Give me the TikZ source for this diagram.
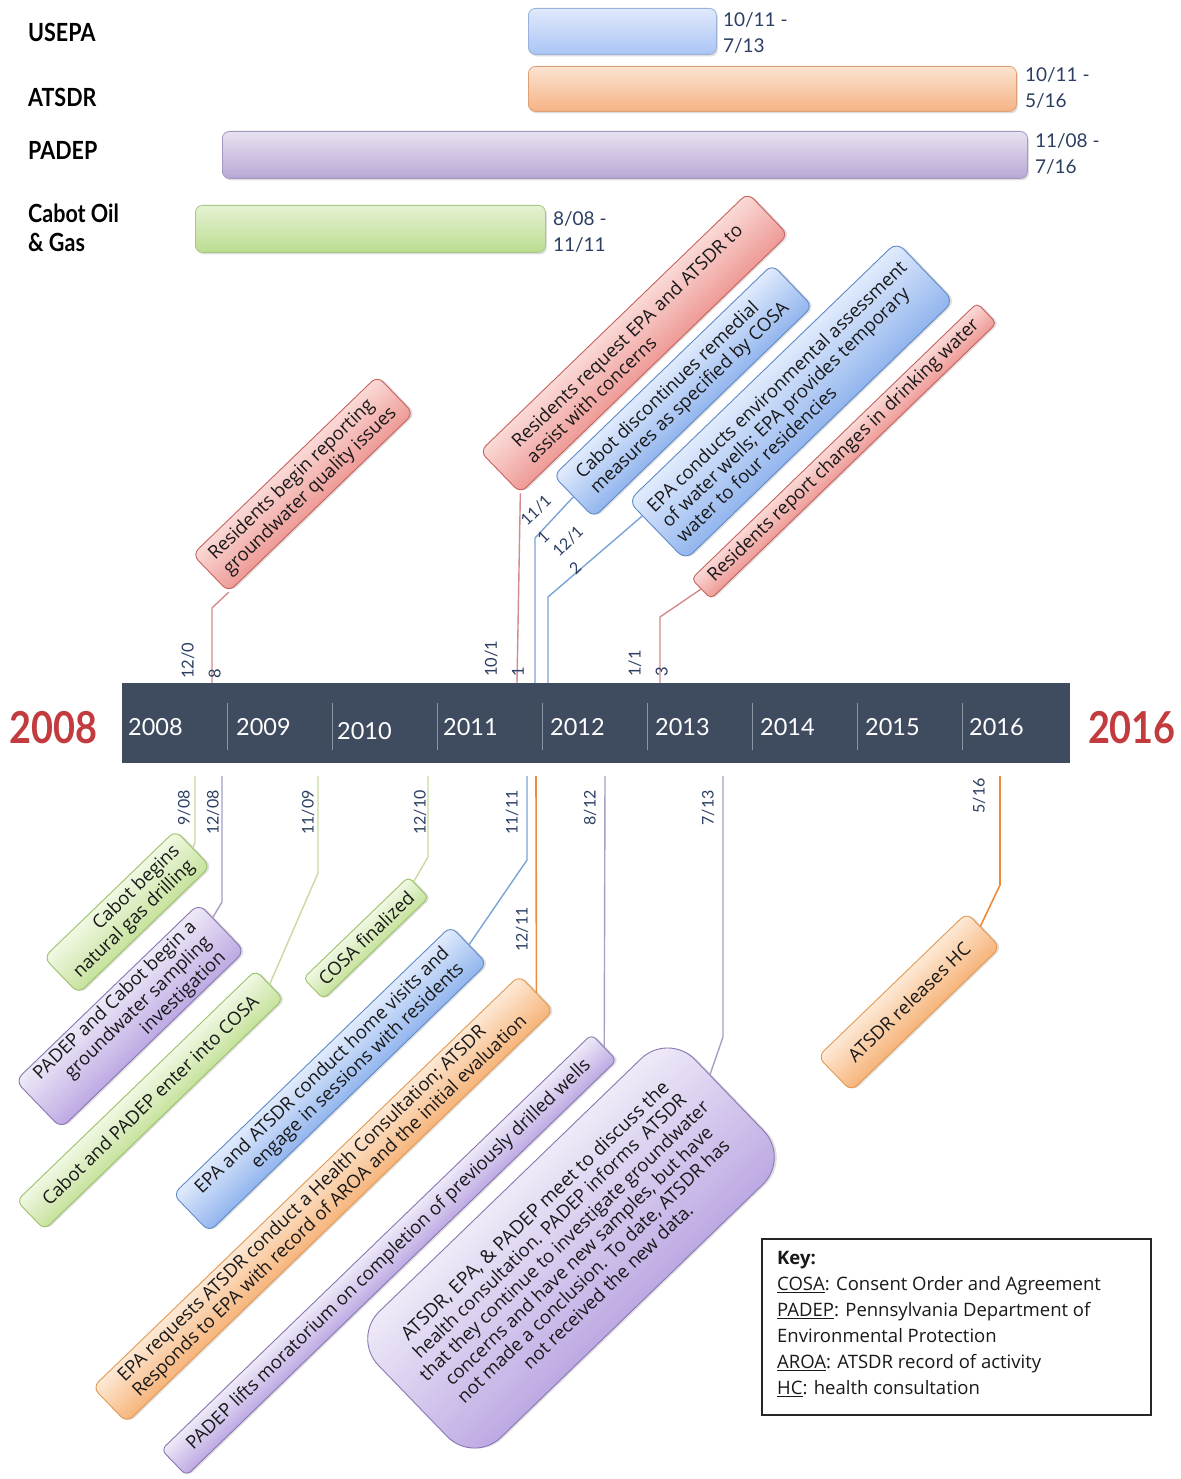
\documentclass[tikz,border=0pt]{standalone}
\usepackage{fontspec}
\setmainfont{Open Sans}
\newfontfamily\latofont{Lato}
\newfontfamily\latocond[FakeStretch=0.86]{Lato}
\usetikzlibrary{calc,shadows}

\definecolor{rTop}{HTML}{FADAD7}\definecolor{rBot}{HTML}{EE9A96}\definecolor{rDraw}{HTML}{C8625E}
\definecolor{bTop}{HTML}{E1EBFC}\definecolor{bBot}{HTML}{92B5EE}\definecolor{bDraw}{HTML}{5F8AC8}
\definecolor{gTop}{HTML}{F1F8E4}\definecolor{gBot}{HTML}{C6E29C}\definecolor{gDraw}{HTML}{9BC267}
\definecolor{pTop}{HTML}{EFEAF8}\definecolor{pBot}{HTML}{BDA9E3}\definecolor{pDraw}{HTML}{8A76B3}
\definecolor{oTop}{HTML}{FDE9D6}\definecolor{oBot}{HTML}{F6B47A}\definecolor{oDraw}{HTML}{E3994F}
\definecolor{lnRed}{HTML}{D48B8C}\definecolor{lnBlue}{HTML}{7AA4D6}\definecolor{lnGreen}{HTML}{C7DBA0}
\definecolor{lnPurple}{HTML}{A69FC6}\definecolor{lnOrange}{HTML}{EE8A3A}
\definecolor{datecol}{HTML}{2C3F63}\definecolor{bandcol}{HTML}{3F4B5F}\definecolor{sepcol}{HTML}{8C95A3}
\definecolor{bigred}{HTML}{C23B3E}
\definecolor{ubT}{HTML}{E0E9FB}\definecolor{ubB}{HTML}{AAC5F5}
\definecolor{uoT}{HTML}{FBE4D2}\definecolor{uoB}{HTML}{F6B284}
\definecolor{upT}{HTML}{E7E1F0}\definecolor{upB}{HTML}{B9A7D5}
\definecolor{ugT}{HTML}{E5F2D2}\definecolor{ugB}{HTML}{BBDD91}

\tikzset{
  boxtxt/.style={inner sep=0pt, text=black!90, font=\fontsize{18.5}{21}\selectfont},
  shd/.style={drop shadow={shadow xshift=1.5pt, shadow yshift=-2pt, opacity=0.25, fill=black!50}},
  lnR/.style={draw=lnRed, line width=1.4pt},
  lnB/.style={draw=lnBlue, line width=1.4pt},
  lnG/.style={draw=lnGreen, line width=1.4pt},
  lnP/.style={draw=lnPurple, line width=1.4pt},
  lnO/.style={draw=lnOrange, line width=1.6pt},
  datelab/.style={text=datecol, inner sep=0pt, font=\latofont\fontsize{16}{19}\selectfont},
  toplab/.style={text=datecol, inner sep=0pt, align=left, font=\latofont\fontsize{16.5}{27}\selectfont},
  slantlab/.style={text=datecol, inner sep=0pt, align=left, rotate=44, font=\latofont\fontsize{16}{24}\selectfont},
  barlab/.style={text=datecol, inner sep=0pt, align=left, anchor=west, font=\latofont\fontsize{19}{26}\selectfont},
  org/.style={inner sep=0pt, anchor=west, align=left, font=\latocond\bfseries\fontsize{25}{29}\selectfont},
  bar/.style={rounded corners=7pt, line width=0.8pt, minimum height=46, inner sep=0pt, anchor=north west, shd},
  yr/.style={text=white, inner sep=0pt, anchor=west, font=\latofont\fontsize{23.5}{26}\selectfont},
  bigyr/.style={text=bigred, inner sep=0pt, font=\latocond\bfseries\fontsize{44}{48}\selectfont},
  sepline/.style={draw=sepcol, line width=0.8pt},
  keytxt/.style={inner sep=0pt, align=left, text=black!90, font=\fontsize{18.5}{26}\selectfont}
}

% #1 name, #2 centre, #3 length, #4 thickness, #5 colour prefix, #6 alignment, #7 corner radius, #8 text
\newcommand{\evbox}[8]{%
  \begin{scope}[transform canvas={shift={#2},rotate=44}]
    \node[draw=#5Draw, line width=0.9pt, top color=#5Top, bottom color=#5Bot,
          rounded corners=#7pt, minimum width=#3, minimum height=#4, inner sep=0pt, shd] at (0,0) {};
  \end{scope}
  \node[boxtxt, rotate=44, minimum width=#3, minimum height=#4, align=#6] (#1) at #2 {#8};
}

\begin{document}
\begin{tikzpicture}[x=1pt,y=-1pt]
\useasboundingbox (0,0) rectangle (1180,1479);
\fill[white] (0,0) rectangle (1180,1479);

% ---------- organisations and bars ----------
\node[org] (nUSEPA) at (28,32) {USEPA};
\node[org] (nATSDR) at (28,97) {ATSDR};
\node[org] (nPADEP) at (28,150) {PADEP};
\node[org] (nCabot) at (28,228) {Cabot Oil\\\& Gas};

\node[bar, top color=ubT, bottom color=ubB, draw=ubB!85!black!70!ubB, minimum width=188] (busepa) at (528,8) {};
\node[bar, top color=uoT, bottom color=uoB, draw=uoB!90!black, minimum width=488, minimum height=45] (batsdr) at (528,66) {};
\node[bar, top color=upT, bottom color=upB, draw=upB!90!black, minimum width=805, minimum height=47] (bpadep) at (222,131) {};
\node[bar, top color=ugT, bottom color=ugB, draw=ugB!90!black, minimum width=350, minimum height=47] (bcabot) at (195,205) {};

\node[barlab] (lusepa) at ($(busepa.east)+(6,2)$) {10/11 -\\7/13};
\node[barlab] (latsdr) at ($(batsdr.east)+(8,-1)$) {10/11 -\\5/16};
\node[barlab] (lpadep) at ($(bpadep.east)+(7,-1)$) {11/08 -\\7/16};
\node[barlab] (lcabot) at ($(bcabot.east)+(7,3)$) {8/08 -\\11/11};

% ---------- timeline band ----------
\node[fill=bandcol, minimum width=948, minimum height=80, inner sep=0pt, anchor=north west] (band) at (122,683) {};
\foreach \sx in {227,332,437,542,647,752,857,962}{\draw[sepline] (\sx,703) -- (\sx,750);}
\node[yr] (y08) at (128,727) {2008};
\node[yr] (y09) at (236,727) {2009};
\node[yr] (y10) at (337,731) {2010};
\node[yr] (y11) at (443,727) {2011};
\node[yr] (y12) at (550,727) {2012};
\node[yr] (y13) at (655,727) {2013};
\node[yr] (y14) at (760,727) {2014};
\node[yr] (y15) at (865,727) {2015};
\node[yr] (y16) at (969,727) {2016};
\node[bigyr, anchor=west] (big08) at (9,728) {2008};
\node[bigyr, anchor=east] (big16) at (1176,728) {2016};

% ---------- boxes above the timeline ----------
\evbox{T5}{(844,451)}{397}{28}{r}{center}{5}{Residents report changes in drinking water}
\evbox{T4}{(791,401)}{373}{82}{b}{left}{10}{EPA conducts environmental assessment\\of water wells; EPA provides temporary\\water to four residencies}
\evbox{T3}{(683,391)}{304}{58}{b}{left}{8}{Cabot discontinues remedial\\measures as specified by COSA}
\evbox{T2}{(634,343)}{372}{58}{r}{left}{8}{Residents request EPA and ATSDR to\\assist with concerns}
\evbox{T1}{(303,484)}{257}{52}{r}{left}{8}{Residents begin reporting\\groundwater quality issues}

% ---------- boxes below the timeline ----------
\evbox{B1}{(127,912)}{183}{50}{g}{right}{8}{Cabot begins\\natural gas drilling}
\evbox{B2}{(130,1016)}{255}{66}{p}{right}{9}{PADEP and Cabot begin a\\groundwater sampling\\investigation}
\evbox{B3}{(150,1100)}{332}{40}{g}{center}{7}{Cabot and PADEP enter into COSA}
\evbox{B4}{(366,938)}{146}{29}{g}{center}{5}{COSA finalized}
\evbox{B5}{(330,1079)}{386}{52}{b}{right}{8}{EPA and ATSDR conduct home visits and\\engage in sessions with residents}
\evbox{B6}{(323,1199)}{593}{49}{o}{left}{8}{EPA requests ATSDR conduct a Health Consultation; ATSDR\\Responds to EPA with record of AROA and the initial evaluation}
\evbox{B7}{(389,1255)}{598}{36}{p}{center}{6}{PADEP lifts moratorium on completion of previously drilled wells}
\evbox{B8}{(571,1248)}{440}{175}{p}{center}{38}{\fontsize{19}{23}\selectfont ATSDR, EPA, \& PADEP meet to discuss the\\health consultation. PADEP informs\ \ ATSDR\\that they continue to investigate groundwater\\concerns and have new samples, but have\\not made a conclusion. To date, ATSDR has\\not received the new data.}
\evbox{B9}{(909,1002)}{207}{48}{o}{center}{8}{ATSDR releases HC}

% ---------- connectors above ----------
\coordinate (u1) at (212,683); \coordinate (u1e) at (212,608);
\coordinate (u2) at (517,683);
\coordinate (u3) at (535,683); \coordinate (u3e) at (535,538);
\coordinate (u4) at (548,683); \coordinate (u4e) at (548,597);
\coordinate (u5) at (660,683); \coordinate (u5e) at (660,617);
\draw[lnR] (u1) -- (u1e) -- (T1.south west);
\draw[lnR] (u2) -- (T2.south west);
\draw[lnB] (u3) -- (u3e) -- (T3.west);
\draw[lnB] (u4) -- (u4e) -- ($(T4.north west)!0.25!(T4.south west)$);
\draw[lnR] (u5) -- (u5e) -- (T5.west);

% ---------- connectors below ----------
\coordinate (d1) at (195,776); \coordinate (d1e) at (195,842);
\coordinate (d2) at (222,776); \coordinate (d2e) at (222,902);
\coordinate (d3) at (318,776); \coordinate (d3e) at (318,873);
\coordinate (d4) at (428,776); \coordinate (d4e) at (428,857);
\coordinate (d5) at (527,776); \coordinate (d5e) at (527,860);
\coordinate (d6) at (536,776);
\coordinate (d7) at (605,776);
\coordinate (d8) at (723,776); \coordinate (d8e) at (723,1037);
\coordinate (d9) at (1000,776); \coordinate (d9e) at (1000,885);
\draw[lnG] (d1) -- (d1e) -- (B1.east);
\draw[lnP] (d2) -- (d2e) -- ($(B2.north east)!0.3!(B2.south east)$);
\draw[lnG] (d3) -- (d3e) -- (B3.east);
\draw[lnG] (d4) -- (d4e) -- ($(B4.north east)!0.25!(B4.south east)$);
\draw[lnB] (d5) -- (d5e) -- (B5.east);
\draw[lnO] (d6) -- (B6.east);
\draw[lnP] (d7) -- (B7.east);
\draw[lnP] (d8) -- (d8e) -- ($(B8.north east)!0.34!(B8.south east)$);
\draw[lnO] (d9) -- (d9e) -- ($(B9.north east)!0.4!(B9.south east)$);

% ---------- date labels ----------
\node[toplab, rotate=90, anchor=south west] (t1208) at (221,679) {12/0\\8};
\node[toplab, rotate=90, anchor=south west] (t1011) at (524,677) {10/1\\1};
\node[toplab, rotate=90, anchor=south west] (t0113) at (668,677) {1/1\\3};
\node[slantlab] (t1111) at (544,519) {11/1\\1};
\node[slantlab] (t1211) at (576,550) {12/1\\2};

\node[datelab, rotate=90, anchor=east] (l908) at (184,790) {9/08};
\node[datelab, rotate=90, anchor=east] (l1208) at (213,790) {12/08};
\node[datelab, rotate=90, anchor=east] (l1109) at (308,790) {11/09};
\node[datelab, rotate=90, anchor=east] (l1210) at (420,790) {12/10};
\node[datelab, rotate=90, anchor=east] (l1111) at (512,790) {11/11};
\node[datelab, rotate=90, anchor=east] (l1211) at (522,907) {12/11};
\node[datelab, rotate=90, anchor=east] (l812) at (590,790) {8/12};
\node[datelab, rotate=90, anchor=east] (l713) at (708,790) {7/13};
\node[datelab, rotate=90, anchor=east] (l516) at (979,778) {5/16};

% ---------- key ----------
\node[draw=black!85, line width=1.6pt, minimum width=389, minimum height=176, inner sep=0pt, anchor=north west] (key) at (761,1238) {};
\node[keytxt, anchor=north west] (keytext) at ($(key.north west)+(16,13)$) {\textbf{Key:}\\
\underline{COSA}: Consent Order and Agreement\\
\underline{PADEP}: Pennsylvania Department of\\
Environmental Protection\\
\underline{AROA}: ATSDR record of activity\\
\underline{HC}: health consultation};
\end{tikzpicture}
\end{document}
